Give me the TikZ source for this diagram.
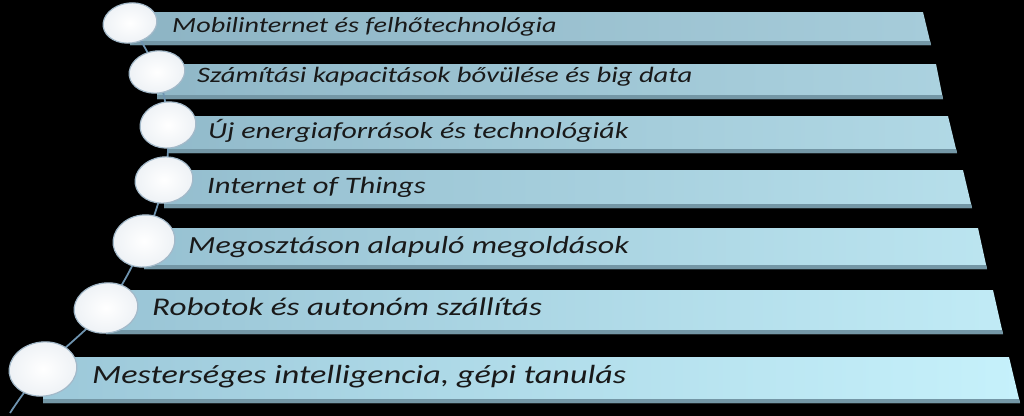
\documentclass[tikz,border=0pt]{standalone}
\usepackage{fontspec}
\newfontfamily\barfont{Carlito}[FakeStretch=1.3]
\usepackage{tikz}
\usetikzlibrary{shapes.geometric, calc}
\definecolor{topleft}{HTML}{8DB4C4}
\definecolor{topright}{HTML}{A6CCDA}
\definecolor{lowleft}{HTML}{9CC8D9}
\definecolor{lowright}{HTML}{C6F1FB}
\definecolor{barrim}{HTML}{7497A6}
\definecolor{spinecol}{HTML}{6F94B0}
\definecolor{bubblerim}{HTML}{A3B9C9}
\definecolor{bubbleedge}{HTML}{EDF1F5}

\begin{document}
\begin{tikzpicture}[
    x=0.03cm, y=-0.03cm,
    bubble/.style={ellipse, draw=bubblerim, line width=1pt, inner sep=0pt,
        inner color=white, outer color=bubbleedge},
    spine/.style={draw=spinecol, line width=1.5pt},
    bartext/.style={anchor=base west, inner sep=0pt, text=black!90}
]
    % background and page size
    \fill[black] (0,0) rectangle (1024,416);

    % the seven bars, widening towards the bottom
    \foreach \i/\top/\bot/\lx/\rx/\d/\cx/\cy in {
        1/12/45/130/923/8/130/23,
        2/64/99/157/936/7/157/72,
        3/116/153/168/948/9/168/125,
        4/170/208/164/963/9/164/180,
        5/228/269/144/978/9/144/241,
        6/290/334/106/993/10/106/308,
        7/357/403/43/1009/11/43/369}
    {
        \pgfmathtruncatemacro\mix{(\i-1)*100/6}
        \fill[left color=lowleft!\mix!topleft, right color=lowright!\mix!topright]
            (\lx,\top) -- (\rx,\top) -- (\rx+\d,\bot) -- (\lx,\bot) -- cycle;
        \fill[barrim] (\lx,\bot-4) -- (\rx+\d-1,\bot-4) -- (\rx+\d,\bot) -- (\lx,\bot) -- cycle;
        \coordinate (p\i) at (\cx,\cy);
    }
    \coordinate (tail) at (10,413);

    % connecting line behind the bubbles
    \draw[spine] plot[smooth, tension=0.6] coordinates {(p1) (p2) (p3) (p4) (p5) (p6) (p7) (tail)};

    % bubbles
    \foreach \i/\w/\h in {1/54/40, 2/56/42, 3/56/46, 4/58/46, 5/62/52, 6/64/50, 7/68/54}
        \node[bubble, rotate=8, minimum width=\w*0.03cm, minimum height=\h*0.03cm] (c\i) at (p\i) {};

    % texts
    \foreach \i/\tx/\bl/\fs/\txt in {
        1/172/32/18.5/{Mobilinternet és felhőtechnológia},
        2/197/82/18.8/{Számítási kapacitások bővülése és big data},
        3/208/138/19.6/{Új energiaforrások és technológiák},
        4/207/193/20.1/{Internet of Things},
        5/188/253/21/{Megosztáson alapuló megoldások},
        6/152/315/21.75/{Robotok és autonóm szállítás},
        7/92/383/22.4/{Mesterséges intelligencia, gépi tanulás}}
        \node[bartext, font=\barfont\itshape\fontsize{\fs}{\fs}\selectfont] (t\i) at (\tx,\bl) {\txt};
\end{tikzpicture}
\end{document}
